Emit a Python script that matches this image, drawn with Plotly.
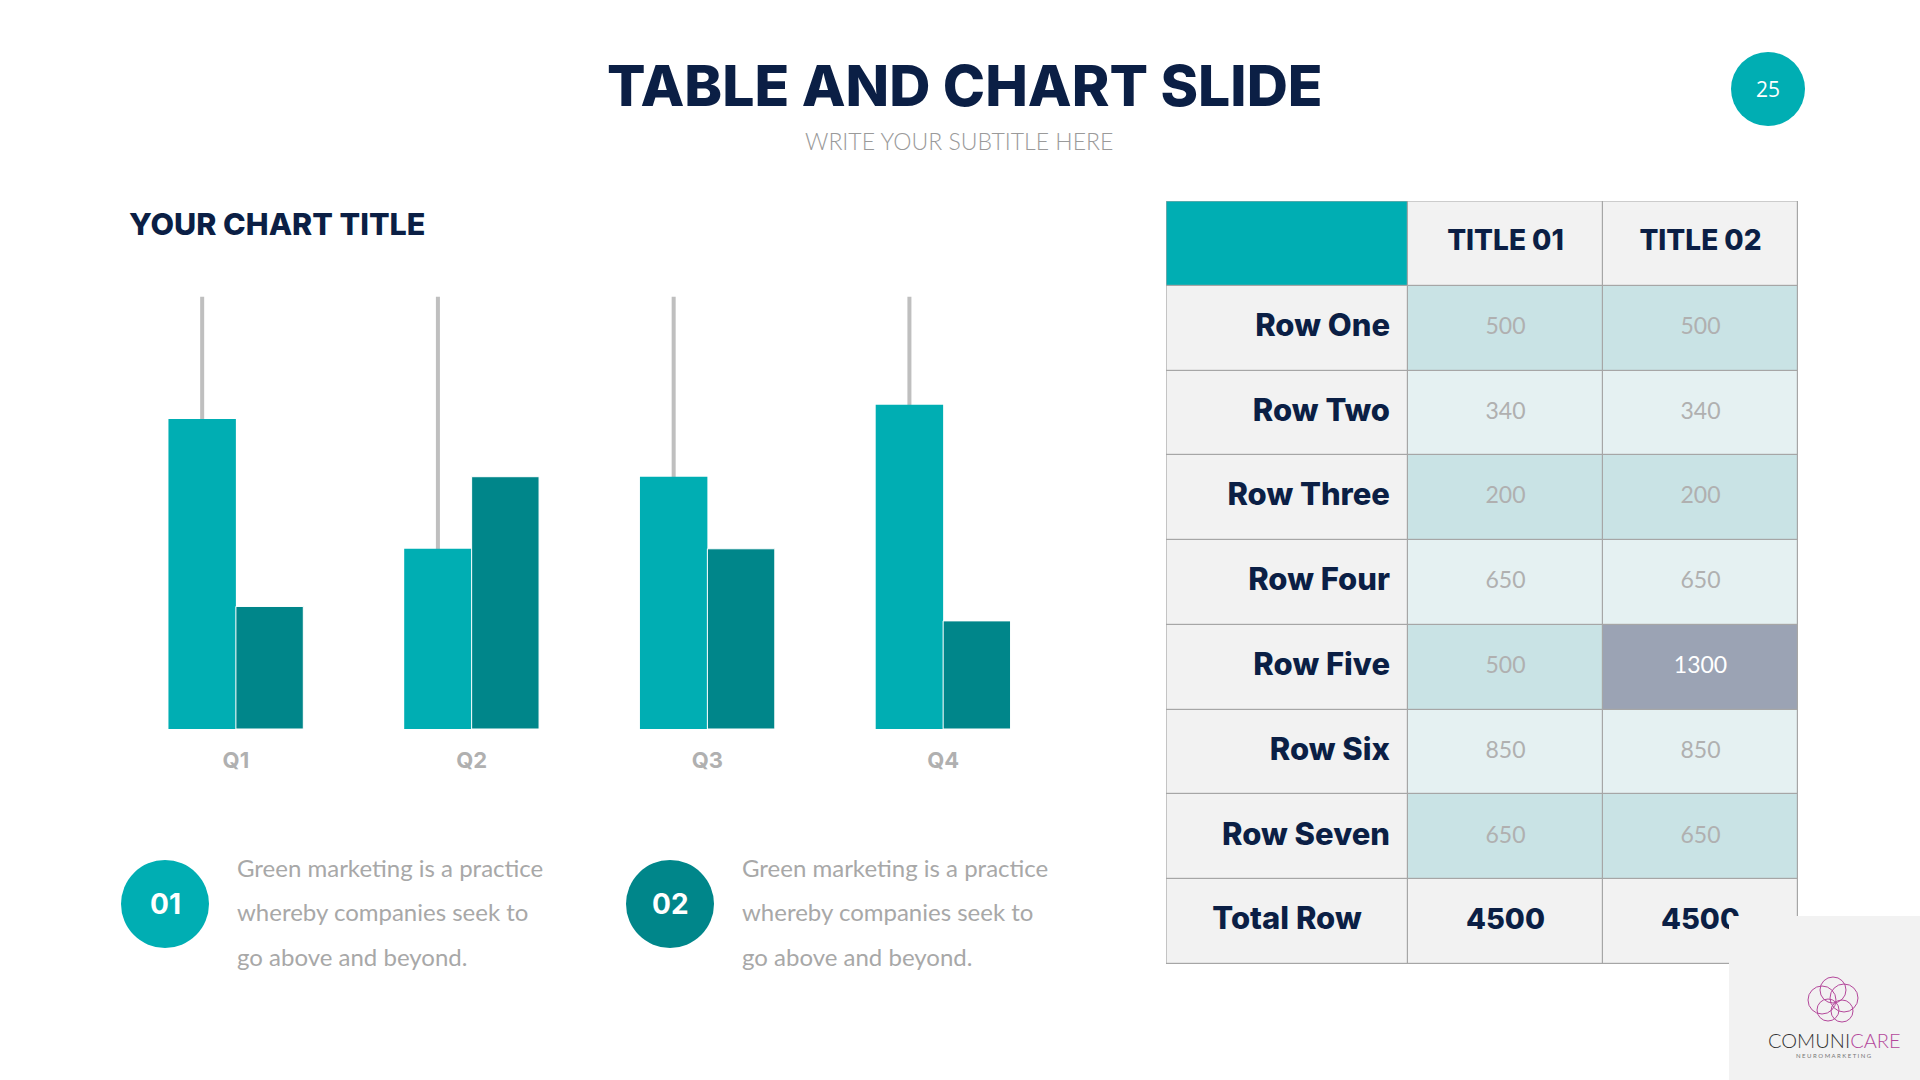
import plotly.graph_objects as go

# ---------------- data ----------------
quarters = ["Q1", "Q2", "Q3", "Q4"]
series_a = [4.3, 2.5, 3.5, 4.5]
series_b = [1.7, 3.5, 2.5, 1.5]
guide_max = [6, 6, 6, 6]

col_titles = ["TITLE 01", "TITLE 02"]
row_labels = ["Row One", "Row Two", "Row Three", "Row Four", "Row Five", "Row Six", "Row Seven"]
title01 = [500, 340, 200, 650, 500, 850, 650]
title02 = [500, 340, 200, 650, 1300, 850, 650]
total_label = "Total Row"
totals = [4500, 4500]

para_lines = ["Green marketing is a practice", "whereby companies seek to", "go above and beyond."]
badges = ["01", "02"]

# ---------------- layout helpers ----------------
W, H = 1920, 1080
NAVY = "#0b1f45"
TEAL = "#00aeb3"
DARK_TEAL = "#00868a"
GRAY_TXT = "#a8a8a8"
HEAVY = "Inter, Poppins, Roboto, sans-serif"
LIGHT = "Lato, 'Open Sans', sans-serif"


def fx(x):
    return x / W


def fy(y):
    return 1 - y / H


fig = go.Figure()

# ---------------- bar chart ----------------
xs = list(range(len(quarters)))
bw = 0.286
fig.add_trace(go.Bar(x=xs, y=guide_max, width=0.017, offset=-bw / 2 - 0.0085,
                     marker=dict(color="#bfbfbf", line=dict(width=0)),
                     hoverinfo="skip", xaxis="x", yaxis="y"))
fig.add_trace(go.Bar(x=xs, y=series_a, width=bw, offset=-bw,
                     marker=dict(color=TEAL, line=dict(width=0)),
                     hoverinfo="skip", xaxis="x", yaxis="y"))
fig.add_trace(go.Bar(x=xs, y=series_b, width=bw, offset=0,
                     marker=dict(color=DARK_TEAL, line=dict(width=1, color="#ffffff")),
                     hoverinfo="skip", xaxis="x", yaxis="y"))

# ---------------- table (heatmap cells + text) ----------------
col_edges = [0, 242, 437, 632]
n_rows = len(row_labels) + 2
row_edges = list(range(n_rows + 1))
c_label, c_head, c_odd, c_even, c_hi = 0, 1, 2, 3, 4
z = [[c_head, c_label, c_label]]
for i, (a, b) in enumerate(zip(title01, title02)):
    base = c_odd if i % 2 == 0 else c_even
    z.append([c_label, base, c_hi if b != a else base])
z.append([c_label, c_label, c_label])
cell_colors = ["#f2f2f2", TEAL, "#c9e3e5", "#e5f1f2", "#9ba3b4"]
cscale = [[k / 4, c] for k, c in enumerate(cell_colors)]
fig.add_trace(go.Heatmap(x=col_edges, y=row_edges, z=z, zmin=0, zmax=4,
                         colorscale=cscale, showscale=False, xgap=1.2, ygap=1.2,
                         hoverinfo="skip", xaxis="x2", yaxis="y2"))

cx = [(col_edges[i] + col_edges[i + 1]) / 2 for i in range(3)]
# header
fig.add_trace(go.Scatter(x=cx[1:], y=[0.5, 0.5], mode="text", text=col_titles,
                         textfont=dict(family=HEAVY, size=28, color=NAVY, weight=800),
                         hoverinfo="skip", xaxis="x2", yaxis="y2"))
# row labels (right aligned)
lab_y = [i + 1.5 for i in range(len(row_labels))]
fig.add_trace(go.Scatter(x=[col_edges[1] - 18] * len(lab_y), y=lab_y, mode="text",
                         text=row_labels, textposition="middle left",
                         textfont=dict(family=HEAVY, size=31, color=NAVY, weight=800),
                         hoverinfo="skip", xaxis="x2", yaxis="y2"))
# total label (centered)
fig.add_trace(go.Scatter(x=[cx[0]], y=[n_rows - 0.5], mode="text",
                         text=[total_label], textposition="middle center",
                         textfont=dict(family=HEAVY, size=31, color=NAVY, weight=800),
                         hoverinfo="skip", xaxis="x2", yaxis="y2"))
# values
vx, vy, vt, vc = [], [], [], []
for ci, col in enumerate([title01, title02]):
    for ri, v in enumerate(col):
        vx.append(cx[ci + 1])
        vy.append(ri + 1.5)
        vt.append(str(v))
        vc.append("#ffffff" if z[ri + 1][ci + 1] == c_hi else "#b0b0b0")
fig.add_trace(go.Scatter(x=vx, y=vy, mode="text", text=vt,
                         textfont=dict(family=LIGHT, size=23, color=vc, weight=400),
                         hoverinfo="skip", xaxis="x2", yaxis="y2"))
# totals
fig.add_trace(go.Scatter(x=cx[1:], y=[n_rows - 0.5] * 2, mode="text", text=[str(t) for t in totals],
                         textfont=dict(family=HEAVY, size=29, color=NAVY, weight=800),
                         hoverinfo="skip", xaxis="x2", yaxis="y2"))

# ---------------- shapes ----------------
shapes = [
    dict(type="rect", xref="x2", yref="y2", x0=0, x1=632, y0=0, y1=n_rows,
         fillcolor="#a6a6a6", line=dict(width=0), layer="below"),
    dict(type="rect", xref="x2", yref="y2", x0=0, x1=632, y0=0, y1=n_rows,
         fillcolor="rgba(0,0,0,0)", line=dict(width=1.2, color="#a6a6a6"), layer="above"),
    # page number circle
    dict(type="circle", xref="paper", yref="paper", x0=fx(1768 - 37), x1=fx(1768 + 37),
         y0=fy(89 + 37), y1=fy(89 - 37), fillcolor=TEAL, line=dict(width=0)),
    # badges
    dict(type="circle", xref="paper", yref="paper", x0=fx(165 - 44), x1=fx(165 + 44),
         y0=fy(904 + 44), y1=fy(904 - 44), fillcolor=TEAL, line=dict(width=0)),
    dict(type="circle", xref="paper", yref="paper", x0=fx(670 - 44), x1=fx(670 + 44),
         y0=fy(904 + 44), y1=fy(904 - 44), fillcolor=DARK_TEAL, line=dict(width=0)),
    # logo box
    dict(type="rect", xref="paper", yref="paper", x0=fx(1729), x1=1, y0=0, y1=fy(916),
         fillcolor="#f2f2f2", line=dict(width=0), layer="above"),
]
# simple brain-like icon
for (ccx, ccy, r) in [(1822, 1000, 14), (1844, 998, 14), (1833, 990, 13), (1828, 1010, 11), (1842, 1011, 11)]:
    shapes.append(dict(type="circle", xref="paper", yref="paper", x0=fx(ccx - r), x1=fx(ccx + r),
                       y0=fy(ccy + r), y1=fy(ccy - r), fillcolor="rgba(0,0,0,0)",
                       line=dict(width=1, color="#b4489b"), layer="above"))

# ---------------- annotations ----------------
ann = [
    dict(x=fx(965), y=fy(86), text="TABLE AND CHART SLIDE",
         font=dict(family=HEAVY, size=57, color=NAVY, weight=800)),
    dict(x=fx(959), y=fy(141), text="WRITE YOUR SUBTITLE HERE",
         font=dict(family=LIGHT, size=23, color="#9a9a9a", weight=300)),
    dict(x=fx(1768), y=fy(89), text="25", font=dict(family="Open Sans, sans-serif", size=21, color="#ffffff")),
    dict(x=fx(127), y=fy(223), text="YOUR CHART TITLE", xanchor="left",
         font=dict(family=HEAVY, size=30.5, color=NAVY, weight=800)),
    dict(x=fx(1834), y=fy(1040), text="<span style='color:#333333'>COMUNI</span><span style='color:#b4489b'>CARE</span>",
         font=dict(family=LIGHT, size=20, weight=300)),
    dict(x=fx(1834), y=fy(1055), text="N E U R O M A R K E T I N G",
         font=dict(family=LIGHT, size=6, color="#777777")),
]
for bx, label in zip([165, 670], badges):
    ann.append(dict(x=fx(bx), y=fy(904), text=label,
                    font=dict(family=HEAVY, size=28, color="#ffffff", weight=700)))
for tx in [235, 740]:
    for li, line in enumerate(para_lines):
        ann.append(dict(x=fx(tx), y=fy(867 + li * 44.5), text=line, xanchor="left",
                        font=dict(family=LIGHT, size=24, color=GRAY_TXT)))
for a in ann:
    a.setdefault("xref", "paper")
    a.setdefault("yref", "paper")
    a.setdefault("showarrow", False)
    a.setdefault("xanchor", "center")
    a.setdefault("yanchor", "middle")

fig.update_layout(
    width=W, height=H, margin=dict(l=0, r=0, t=0, b=0),
    paper_bgcolor="#ffffff", plot_bgcolor="rgba(0,0,0,0)",
    barmode="overlay", showlegend=False,
    xaxis=dict(domain=[fx(118), fx(1061)], range=[-0.5, 3.5], tickvals=xs, ticktext=quarters,
               showgrid=False, zeroline=False, showline=False, ticks="", ticklabelstandoff=16,
               tickfont=dict(family=HEAVY, size=22, color="#b0b0b0", weight=700), fixedrange=True),
    yaxis=dict(domain=[fy(729), fy(296.5)], range=[0, 6], visible=False, fixedrange=True),
    xaxis2=dict(domain=[fx(1166), fx(1798)], range=[0, 632], visible=False, fixedrange=True),
    yaxis2=dict(domain=[fy(964), fy(201)], range=[n_rows, 0], visible=False, fixedrange=True),
    shapes=shapes, annotations=ann,
)

fig.write_html("out.html", config={"displayModeBar": False},
               post_script="document.body.style.margin='0';")
